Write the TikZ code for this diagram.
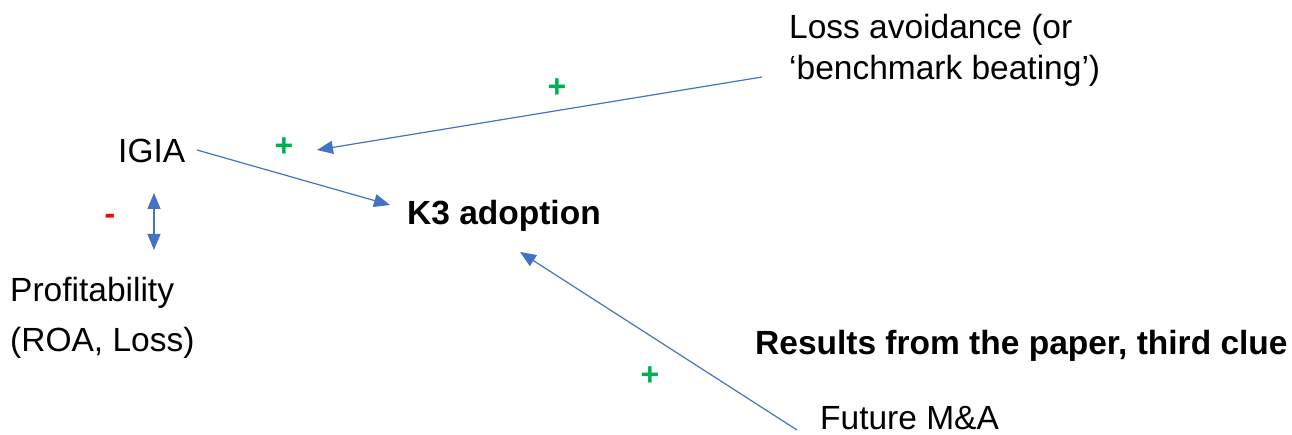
\documentclass[tikz,border=0pt]{standalone}
\usepackage{fontspec}
\setmainfont{Liberation Sans}
\usetikzlibrary{arrows.meta}
\definecolor{arrowblue}{HTML}{4472C4}
\definecolor{plusgreen}{HTML}{00B050}
\definecolor{minusred}{HTML}{FF0000}
\tikzset{
  lbl/.style={inner sep=0pt, anchor=base west, font=\fontsize{33.5}{41}\selectfont, align=left},
  boldlbl/.style={lbl, font=\fontsize{33.5}{41}\selectfont\bfseries},
  sign/.style={inner sep=0pt, font=\fontsize{32}{32}\selectfont\bfseries},
  conn/.style={draw=arrowblue, line width=1.2pt, -{Triangle[length=16pt,width=13pt]}},
  dconn/.style={draw=arrowblue, line width=1.2pt, {Triangle[length=16pt,width=13pt]}-{Triangle[length=16pt,width=13pt]}}
}
\begin{document}
\begin{tikzpicture}[x=1pt,y=-1pt]
\useasboundingbox (0,0) rectangle (1292,435);
\node[lbl] (loss) at (789,80) {Loss avoidance (or\\`benchmark beating')};
\node[lbl] (igia) at (118,163) {IGIA};
\node[boldlbl] (k3) at (407,225) {K3 adoption};
\node[lbl, font=\fontsize{33.5}{50}\selectfont] (prof) at (10,352) {Profitability\\(ROA, Loss)};
\node[boldlbl] (res) at (755,354) {Results from the paper, third clue};
\node[lbl] (ma) at (820,429) {Future M\&A};
\node[sign, text=plusgreen] (p1) at (557,88) {+};
\node[sign, text=plusgreen] (p2) at (284,147) {+};
\node[sign, text=plusgreen] (p3) at (650,376) {+};
\node[sign, text=minusred] (m1) at (110,219) {-};
\coordinate (lossS) at (762,77);
\coordinate (lossT) at (317,150);
\coordinate (igiaS) at (197,150);
\coordinate (igiaT) at (390,205);
\coordinate (profT) at (154,193);
\coordinate (profB) at (154,250);
\coordinate (maS) at (797,430);
\coordinate (maT) at (520,252);
\draw[conn] (lossS) -- (lossT);
\draw[conn] (igiaS) -- (igiaT);
\draw[dconn] (profT) -- (profB);
\draw[conn] (maS) -- (maT);
\end{tikzpicture}
\end{document}
